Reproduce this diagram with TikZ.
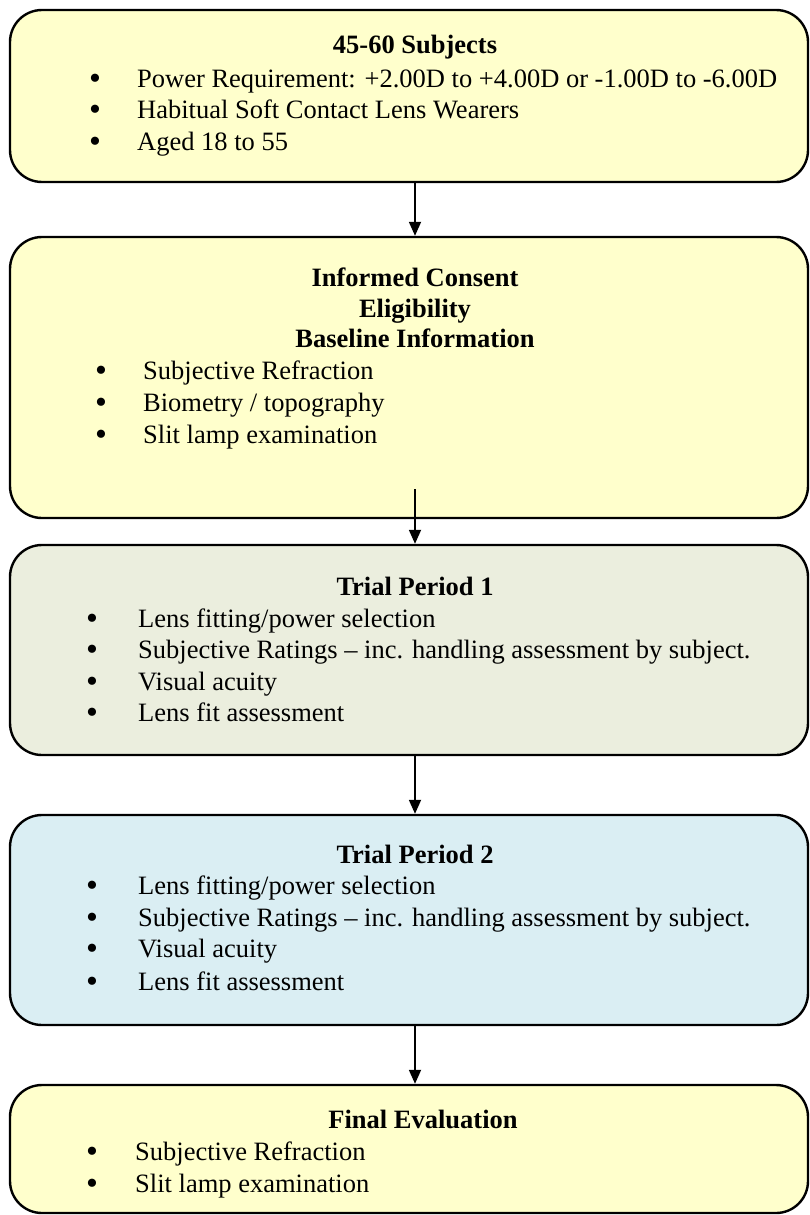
\documentclass[tikz,border=0pt]{standalone}
\usepackage{fontspec}
\setmainfont{Liberation Serif}
\usetikzlibrary{arrows.meta}
\definecolor{yel}{HTML}{FFFFCC}
\definecolor{grn}{HTML}{EBEEDE}
\definecolor{blu}{HTML}{DAEEF3}
\begin{document}
\begin{tikzpicture}[x=1pt,y=-1pt,
  box/.style={draw=black, line width=2.4pt, rounded corners=32pt, minimum width=798pt, inner sep=0pt},
  txt/.style={anchor=base west, inner sep=0pt, font=\fontsize{26.5}{30}\selectfont},
  ttl/.style={anchor=base, inner sep=0pt, font=\fontsize{26.5}{30}\selectfont\bfseries},
  bul/.style={anchor=base, inner sep=0pt, font=\fontsize{34}{30}\selectfont},
  arr/.style={line width=1.8pt, -{Triangle[length=14pt,width=12pt]}}]
\useasboundingbox (0,0) rectangle (809,1215);
% boxes
\node[box, fill=yel, minimum height=172pt] (b1) at (409,96) {};
\node[box, fill=yel, minimum height=281pt] (b2) at (409,377.5) {};
\node[box, fill=grn, minimum height=210pt] (b3) at (409,650) {};
\node[box, fill=blu, minimum height=210pt] (b4) at (409,920) {};
\node[box, fill=yel, minimum height=128pt] (b5) at (409,1149) {};
% arrows
\coordinate (ax) at (415,0);
\coordinate (a2) at (415,489);
\draw[arr] (b1.south -| ax) -- (b2.north -| ax);
\draw[arr] (a2) -- (b3.north -| a2);
\draw[arr] (b3.south -| ax) -- (b4.north -| ax);
\draw[arr] (b4.south -| ax) -- (b5.north -| ax);
% box 1
\node[ttl] (t1) at (415,53) {45-60 Subjects};
\node[bul] (p11) at (95,89) {•};
\node[txt] (l11) at (137,87) {Power Requirement: +2.00D to +4.00D or -1.00D to -6.00D};
\node[bul] (p12) at (95,120) {•};
\node[txt] (l12) at (137,118) {Habitual Soft Contact Lens Wearers};
\node[bul] (p13) at (95,152) {•};
\node[txt] (l13) at (137,150) {Aged 18 to 55};
% box 2
\node[ttl] (t21) at (415,286) {Informed Consent};
\node[ttl] (t22) at (415,317) {Eligibility};
\node[ttl] (t23) at (415,347) {Baseline Information};
\node[bul] (p21) at (101,381) {•};
\node[txt] (l21) at (143,379) {Subjective Refraction};
\node[bul] (p22) at (101,413) {•};
\node[txt] (l22) at (143,411) {Biometry / topography};
\node[bul] (p23) at (101,445) {•};
\node[txt] (l23) at (143,443) {Slit lamp examination};
% box 3
\node[ttl] (t3) at (415,595) {Trial Period 1};
\node[bul] (p31) at (92,629) {•};
\node[txt] (l31) at (138,627) {Lens fitting/power selection};
\node[bul] (p32) at (92,660) {•};
\node[txt] (l32) at (138,658) {Subjective Ratings – inc. handling assessment by subject.};
\node[bul] (p33) at (92,692) {•};
\node[txt] (l33) at (138,690) {Visual acuity};
\node[bul] (p34) at (92,723) {•};
\node[txt] (l34) at (138,721) {Lens fit assessment};
% box 4
\node[ttl] (t4) at (415,863) {Trial Period 2};
\node[bul] (p41) at (92,896) {•};
\node[txt] (l41) at (138,894) {Lens fitting/power selection};
\node[bul] (p42) at (92,928) {•};
\node[txt] (l42) at (138,926) {Subjective Ratings – inc. handling assessment by subject.};
\node[bul] (p43) at (92,959) {•};
\node[txt] (l43) at (138,957) {Visual acuity};
\node[bul] (p44) at (92,992) {•};
\node[txt] (l44) at (138,990) {Lens fit assessment};
% box 5
\node[ttl] (t5) at (423,1128) {Final Evaluation};
\node[bul] (p51) at (92,1162) {•};
\node[txt] (l51) at (135,1160) {Subjective Refraction};
\node[bul] (p52) at (92,1194) {•};
\node[txt] (l52) at (135,1192) {Slit lamp examination};
\end{tikzpicture}
\end{document}
